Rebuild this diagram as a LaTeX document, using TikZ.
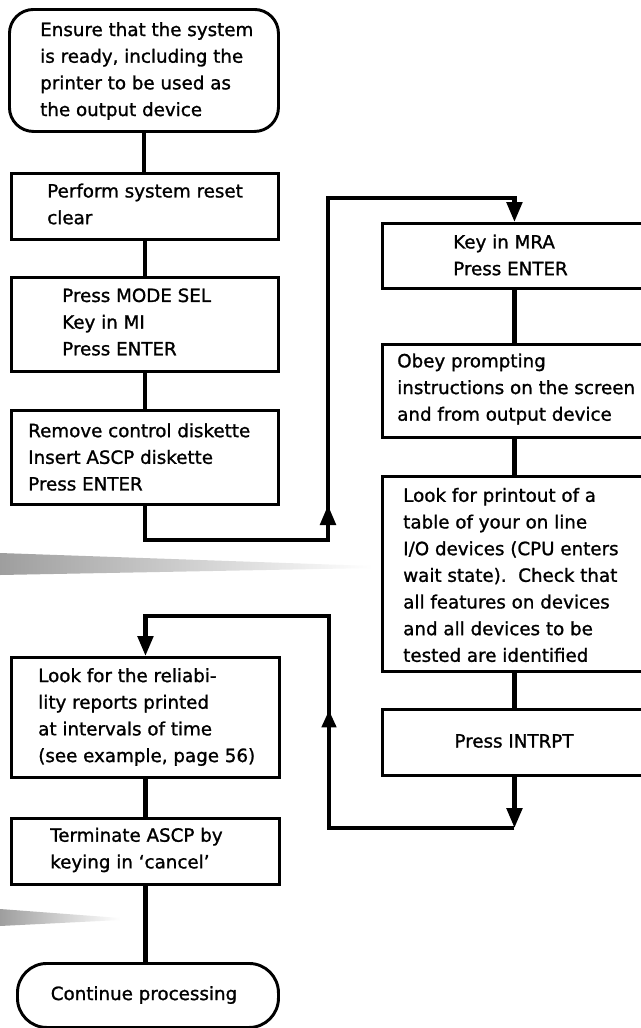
\documentclass[tikz,border=0pt]{standalone}
\usepackage{fontspec}
\setmainfont[FakeBold=1.2]{DejaVu Sans}
\usetikzlibrary{arrows.meta}

\tikzset{
  box/.style={draw, line width=2.2pt, rectangle, inner sep=0pt, anchor=north west},
  terminal/.style={box, rounded corners=18pt},
  txt/.style={font=\fontsize{13.7pt}{20pt}\selectfont, align=left, inner sep=0pt, anchor=west},
  conn/.style={line width=3.2pt},
  tip/.style={-{Triangle[length=15pt, width=11.5pt]}},
  smalltip/.style={-{Triangle[length=13pt, width=10.5pt]}},
  edgeband/.style={left color=black!38, right color=white}
}

\begin{document}
\begin{tikzpicture}[x=0.75pt, y=-0.75pt]
  \useasboundingbox (0,0) rectangle (641,1028);
  \fill[white] (0,0) rectangle (641,1028);
  \clip (0,0) rectangle (641,1028);

  % page-edge halftone bands
  \shade[edgeband] (0,553) -- (372,566) -- (372,568) -- (0,575) -- cycle;
  \shade[edgeband] (0,909) -- (120,918) -- (120,920) -- (0,926) -- cycle;

  % left column
  \node[terminal, minimum width=269*0.75pt, minimum height=122*0.75pt] (start) at (8,8) {};
  \node[box, minimum width=267*0.75pt, minimum height=66*0.75pt] (reset) at (10,172) {};
  \node[box, minimum width=267*0.75pt, minimum height=94*0.75pt] (mode) at (10,276) {};
  \node[box, minimum width=267*0.75pt, minimum height=94*0.75pt] (disk) at (10,409) {};
  \node[box, minimum width=268*0.75pt, minimum height=120*0.75pt] (report) at (10,656) {};
  \node[box, minimum width=268*0.75pt, minimum height=66*0.75pt] (cancel) at (10,817) {};
  \node[terminal, rounded corners=22pt, minimum width=261*0.75pt, minimum height=64*0.75pt] (cont) at (16,962) {};

  % right column (runs off the right edge of the page)
  \node[box, minimum width=264*0.75pt, minimum height=65*0.75pt] (mra) at (381,222) {};
  \node[box, minimum width=264*0.75pt, minimum height=93*0.75pt] (obey) at (381,343) {};
  \node[box, minimum width=264*0.75pt, minimum height=195*0.75pt] (table) at (381,475) {};
  \node[box, minimum width=264*0.75pt, minimum height=66*0.75pt] (intrpt) at (381,708) {};

  % box texts
  \node[txt] (tstart) at (40,71) {Ensure that the system\\is ready, including the\\printer to be used as\\the output device};
  \node[txt] (treset) at (47,204) {Perform system reset\\clear};
  \node[txt] (tmode) at (62,322) {Press MODE SEL\\Key in MI\\Press ENTER};
  \node[txt] (tdisk) at (28,457) {Remove control diskette\\Insert ASCP diskette\\Press ENTER};
  \node[txt] (tmra) at (453,255) {Key in MRA\\Press ENTER};
  \node[txt] (tobey) at (397,389) {Obey prompting\\instructions on the screen\\and from output device};
  \node[txt] (ttable) at (403,575) {Look for printout of a\\table of your on line\\I/O devices (CPU enters\\wait state).\ \ Check that\\all features on devices\\and all devices to be\\tested are identified};
  \node[txt, anchor=center] (tintrpt) at (514,741) {Press INTRPT};
  \node[txt] (treport) at (38,717) {Look for the reliabi-\\lity reports printed\\at intervals of time\\(see example, page 56)};
  \node[txt] (tcancel) at (50,850) {Terminate ASCP by\\keying in `cancel'};
  \node[txt, anchor=center] (tcont) at (144,995) {Continue processing};

  % straight connectors
  \draw[conn] (start.south) -- (start.south |- reset.north);
  \draw[conn] (reset.south) -- (mode.north);
  \draw[conn] (mode.south) -- (disk.north);
  \draw[conn] (mra.south) -- (obey.north);
  \draw[conn] (obey.south) -- (table.north);
  \draw[conn] (table.south) -- (intrpt.south |- intrpt.north);
  \draw[conn] (report.south) -- (cancel.north);
  \draw[conn] (cancel.south) -- (cancel.south |- cont.north);

  % route from the left column to the right column
  \coordinate (l1b) at (328,540);
  \coordinate (l1c) at (328,198);
  \coordinate (l1m) at (328,505);
  \draw[conn, tip] (disk.south) -- (disk.south |- l1b) -- (l1b) -- (l1c) -- (mra.north |- l1c) -- (mra.north);
  \draw[conn, tip] (l1b) -- (l1m);

  % return loop from INTRPT to the reliability reports
  \coordinate (l2a) at (intrpt.south |- 0,828);
  \coordinate (l2b) at (329,828);
  \coordinate (l2c) at (329,616);
  \coordinate (l2m) at (329,710);
  \draw[conn, tip] (intrpt.south) -- (l2a);
  \draw[conn, tip] (l2a) -- (l2b) -- (l2c) -- (report.north |- l2c) -- (report.north);
  \draw[conn, smalltip] (l2b) -- (l2m);
\end{tikzpicture}
\end{document}
